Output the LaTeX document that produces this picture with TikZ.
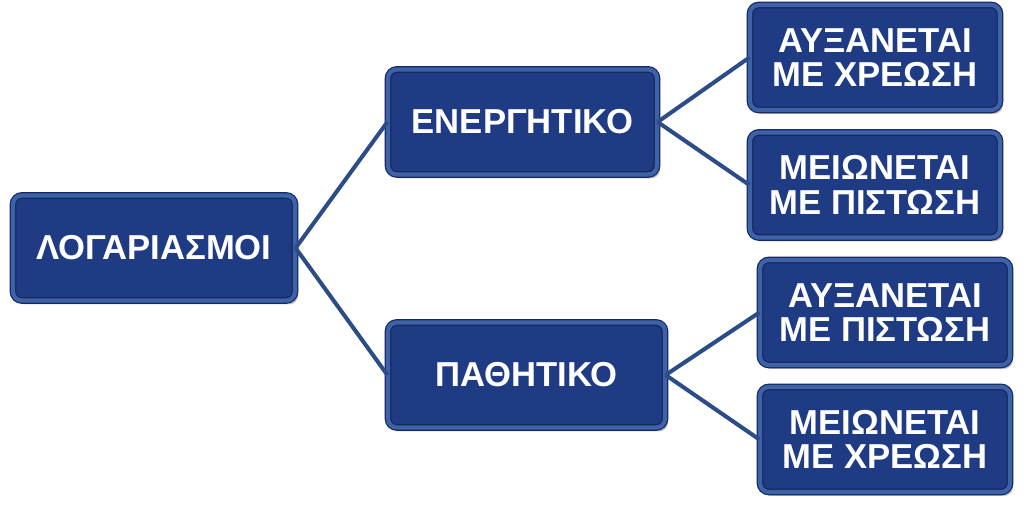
\documentclass[tikz,border=0pt]{standalone}
\usepackage{fontspec}
\setmainfont{Liberation Sans}
\usetikzlibrary{positioning, shadows}

\definecolor{boxblue}{HTML}{1E3B84}
\definecolor{boxrim}{HTML}{3D62AA}
\definecolor{boxedge}{HTML}{16295C}
\definecolor{linkblue}{HTML}{2B4C86}

\begin{document}
\begin{tikzpicture}
    % --- Style Definitions ---
    \tikzset{
        account box/.style={
            draw=boxedge,
            line width=0.7pt,
            double=boxrim,
            double distance=2.4pt,
            fill=boxblue,
            rounded corners=5pt,
            minimum height=2.1cm,
            align=center,
            text=white,
            font=\fontsize{19.7}{19.5}\selectfont\bfseries,
            drop shadow={shadow xshift=0.06cm, shadow yshift=-0.08cm, fill=black!45}
        },
        link line/.style={
            draw=linkblue,
            line width=2.3pt
        }
    }

    % fixed frame of the picture
    \useasboundingbox (0,0) rectangle (20.48,10.14);

    % ==========================================
    % ROOT
    % ==========================================
    \node[account box, minimum width=5.64cm] (accounts) at (3.08,5.18) {ΛΟΓΑΡΙΑΣΜΟΙ};

    % ==========================================
    % SECOND LEVEL
    % ==========================================
    \node[account box, minimum width=5.38cm] (assets) at (10.45,7.70) {ΕΝΕΡΓΗΤΙΚΟ};
    \node[account box, minimum width=5.54cm] (liabs) at (10.53,2.64) {ΠΑΘΗΤΙΚΟ};

    % ==========================================
    % THIRD LEVEL
    % ==========================================
    \node[account box, minimum width=5.0cm] (assets_up) at (17.50,8.99) {ΑΥΞΑΝΕΤΑΙ\\ΜΕ ΧΡΕΩΣΗ};
    \node[account box, minimum width=5.0cm] (assets_down) at (17.50,6.44) {ΜΕΙΩΝΕΤΑΙ\\ΜΕ ΠΙΣΤΩΣΗ};
    \node[account box, minimum width=5.0cm] (liabs_up) at (17.70,3.89) {ΑΥΞΑΝΕΤΑΙ\\ΜΕ ΠΙΣΤΩΣΗ};
    \node[account box, minimum width=5.0cm] (liabs_down) at (17.70,1.35) {ΜΕΙΩΝΕΤΑΙ\\ΜΕ ΧΡΕΩΣΗ};

    % ==========================================
    % CONNECTORS
    % ==========================================
    \draw[link line] (accounts.east) -- (assets.west);
    \draw[link line] (accounts.east) -- (liabs.west);
    \draw[link line] (assets.east) -- (assets_up.west);
    \draw[link line] (assets.east) -- (assets_down.west);
    \draw[link line] (liabs.east) -- (liabs_up.west);
    \draw[link line] (liabs.east) -- (liabs_down.west);

\end{tikzpicture}
\end{document}
